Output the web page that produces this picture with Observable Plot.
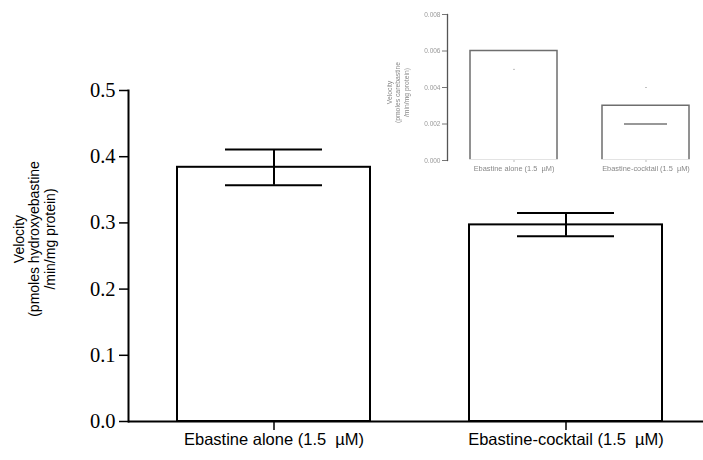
<!DOCTYPE html>
<html>
<head>
<meta charset="utf-8">
<script src="https://cdn.jsdelivr.net/npm/d3@7"></script>
<script src="https://cdn.jsdelivr.net/npm/@observablehq/plot@0.6"></script>
<style>
  body { margin: 0; background: #fff; }
  #chart { position: relative; width: 703px; height: 460px; }
  #chart svg { position: absolute; left: 0; top: 0; }
</style>
</head>
<body>
<div id="chart"></div>
<script>
// Hydroxyebastine formation (main panel)
const groups = ["Ebastine alone (1.5\u00A0 µM)", "Ebastine-cocktail (1.5\u00A0 µM)"];
const velocity = [0.384, 0.297];
const errLow = [0.357, 0.280];
const errHigh = [0.411, 0.315];
const yTicks = [0, 0.1, 0.2, 0.3, 0.4, 0.5];
const yLabel = "Velocity\n(pmoles hydroxyebastine\n/min/mg protein)";

// Carebastine formation (inset panel)
const insetVelocity = [0.006, 0.003];
const insetLow = [0.005, 0.002];
const insetHigh = [0.007, 0.004];
const insetTicks = [0, 0.002, 0.004, 0.006, 0.008];
const insetLabel = "Velocity\n(pmoles carebastine\n/min/mg protein)";

const sans = "Liberation Sans, Arial, Helvetica, sans-serif";
const serif = "Liberation Serif, Times New Roman, serif";

const rows = groups.map((g, i) => ({group: g, v: velocity[i], lo: errLow[i], hi: errHigh[i]}));
const insetRows = groups.map((g, i) => ({group: g, v: insetVelocity[i], lo: insetLow[i], hi: insetHigh[i]}));

const main = Plot.plot({
  width: 703,
  height: 460,
  marginLeft: 128,
  marginRight: 0,
  marginTop: 90,
  marginBottom: 39,
  x: {domain: groups, range: [128, 712], paddingInner: 0.338, paddingOuter: 0.168},
  y: {domain: [0, 0.5]},
  marks: [
    Plot.barY(rows, {x: "group", y: "v", fill: "white", stroke: "black", strokeWidth: 2}),
    Plot.ruleX(rows, {x: "group", y1: "lo", y2: "hi", stroke: "black", strokeWidth: 2}),
    Plot.tickY(rows, {x: "group", y: "lo", insetLeft: 48, insetRight: 48, stroke: "black", strokeWidth: 2}),
    Plot.tickY(rows, {x: "group", y: "hi", insetLeft: 48, insetRight: 48, stroke: "black", strokeWidth: 2}),
    Plot.ruleY([0], {stroke: "black", strokeWidth: 2}),
    Plot.frame({anchor: "left", stroke: "black", strokeWidth: 2}),
    Plot.axisY({ticks: yTicks, tickFormat: d3.format(".1f"), tickSize: 9, tickPadding: 4,
      fontSize: 20.5, fontFamily: serif, fill: "black", stroke: "black", strokeWidth: 1.5, label: null}),
    Plot.axisX({tickSize: 9, tickPadding: 3, fontSize: 16.5, fontFamily: sans,
      fill: "black", stroke: "black", strokeWidth: 1.5, label: null}),
    Plot.text([yLabel], {frameAnchor: "left", rotate: -90, dx: -94, dy: -17,
      fontSize: 14, lineHeight: 1.1, fontFamily: sans, fill: "black", textAnchor: "middle"})
  ]
});

const inset = Plot.plot({
  width: 703,
  height: 180,
  marginLeft: 447,
  marginRight: 0,
  marginTop: 14,
  marginBottom: 20,
  style: {background: "transparent", overflow: "visible", filter: "blur(0.35px)"},
  x: {domain: groups, range: [447, 712], paddingInner: 0.338, paddingOuter: 0.168},
  y: {domain: [0, 0.008]},
  marks: [
    Plot.barY(insetRows, {x: "group", y: "v", fill: "none", stroke: "#6e6e6e", strokeWidth: 1.5}),
    // the inset bars are open at the base
    Plot.ruleY([0], {stroke: "white", strokeWidth: 2.5}),
    Plot.tickY(insetRows.filter(d => d.lo < d.v / 1.4), {x: "group", y: "lo", insetLeft: 22, insetRight: 22, stroke: "#333", strokeWidth: 1.2}),
    Plot.dot([insetRows[0]], {x: "group", y: "lo", r: 0.6, fill: "#777"}),
    Plot.dot([insetRows[1]], {x: "group", y: "hi", r: 0.6, fill: "#777"}),
    Plot.frame({anchor: "left", stroke: "#555", strokeWidth: 1.3}),
    Plot.axisY({ticks: insetTicks, tickFormat: d3.format(".3f"), tickSize: 5, tickPadding: 2,
      fontSize: 6.5, fontFamily: sans, fill: "#999", stroke: "#777", strokeWidth: 1, label: null}),
    Plot.axisX({tickSize: 2, tickPadding: 3, fontSize: 7.4, fontFamily: sans,
      fill: "#888", stroke: "#bbb", strokeWidth: 1, label: null}),
    Plot.text([insetLabel], {frameAnchor: "left", rotate: -90, dx: -50, dy: 5,
      fontSize: 6.8, lineHeight: 1.25, fontFamily: sans, fill: "#888", textAnchor: "middle"})
  ]
});

const root = document.getElementById("chart");
root.appendChild(main);
root.appendChild(inset);
</script>
</body>
</html>
